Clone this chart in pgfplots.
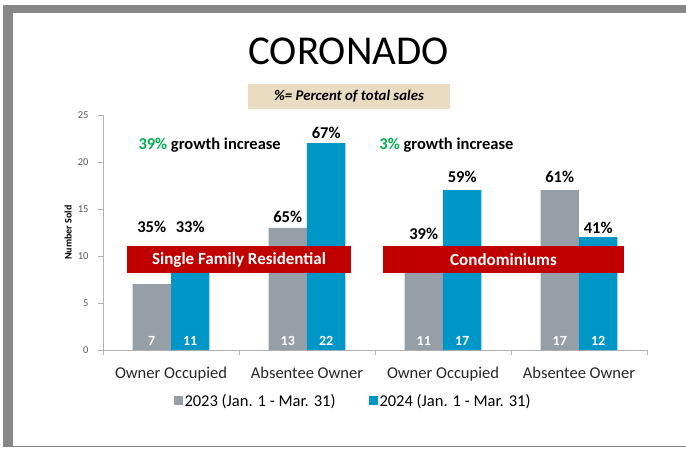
\documentclass[border=0pt]{standalone}
\usepackage{fontspec}
\setmainfont{Carlito}
\usepackage{pgfplots}
\pgfplotsset{compat=1.18}
\definecolor{c23}{HTML}{969FA7}
\definecolor{c24}{HTML}{0096C8}
\definecolor{bred}{HTML}{C00000}
\definecolor{ggreen}{HTML}{00B050}
\definecolor{tanbox}{HTML}{EADCC0}
\definecolor{framec}{HTML}{878787}
\pgfplotsset{sqlegend/.style={legend image code/.code={\fill[##1] (-2pt,-4.5pt) rectangle (7pt,4.5pt);}}}
\begin{document}
\begin{tikzpicture}
\fill[white] (0,0) rectangle (686pt,448pt);
\useasboundingbox (0,0) rectangle (686pt,448pt);
\fill[framec] (3pt,435pt) rectangle (686pt,443pt);
\fill[framec] (3pt,1pt) rectangle (13pt,443pt);
\fill[framec] (3pt,1pt) rectangle (686pt,2.5pt);
\node[anchor=base, inner sep=0pt, font=\fontsize{41}{48}\selectfont] at (348.5pt,383pt) {CORONADO};
\fill[tanbox] (248pt,339pt) rectangle (450pt,364pt);
\node[font=\fontsize{14.8}{17}\selectfont\bfseries\itshape] at (349pt,351.5pt) {\%= Percent of total sales};
\begin{axis}[
  at={(103pt,98pt)}, anchor=south west, scale only axis,
  width=544pt, height=235pt,
  xmin=-0.5, xmax=3.5, ymin=0, ymax=25,
  clip=false,
  axis x line*=bottom, axis y line*=left,
  axis line style={draw=black!30, line width=0.8pt},
  tick align=outside, major tick length=5pt, minor tick length=5pt,
  tick style={draw=black!30, line width=0.8pt},
  major x tick style={draw=none},
  xtick={0,1,2,3},
  xticklabels={Owner Occupied, Absentee Owner, Owner Occupied, Absentee Owner},
  minor xtick={-0.5,0.5,1.5,2.5,3.5},
  ytick={0,5,...,25},
  /pgf/number format/assume math mode=true,
  y tick label style={font=\fontsize{10.5}{12}\selectfont, text=black!65, xshift=-6pt},
  x tick label style={font=\fontsize{16.5}{19}\selectfont, text=black!85, yshift=-9pt},
  ylabel={Number Sold},
  ylabel style={font=\fontsize{10}{12}\selectfont\bfseries, at={(axis description cs:-0.064,0.5)}, anchor=center},
  legend style={at={(axis description cs:0.4596,-0.217)}, anchor=center, draw=none, fill=none,
    font=\fontsize{16.5}{19}\selectfont, legend columns=2,
    /tikz/every even column/.append style={column sep=31pt}},
  legend cell align=left,
]
\addplot[ybar, bar width=0.283, bar shift=-0.1415, fill=c23, draw=none, sqlegend]
  coordinates {(0,7) (1,13) (2,11) (3,17)};
\addlegendentry{2023 (Jan. 1 - Mar. 31)}
\addplot[ybar, bar width=0.283, bar shift=0.1415, fill=c24, draw=none, sqlegend]
  coordinates {(0,11) (1,22) (2,17) (3,12)};
\addlegendentry{2024 (Jan. 1 - Mar. 31)}
% counts at bar bottoms
\addplot[forget plot, draw=none, no marks, nodes near coords, point meta=explicit symbolic,
  nodes near coords style={anchor=base, text=white, font=\fontsize{14}{16}\selectfont\bfseries, yshift=5pt}]
  coordinates {(-0.1415,0)[7] (0.1415,0)[11] (0.8585,0)[13] (1.1415,0)[22]
               (1.8585,0)[11] (2.1415,0)[17] (2.8585,0)[17] (3.1415,0)[12]};
% percent labels
\addplot[forget plot, draw=none, no marks, nodes near coords, point meta=explicit symbolic,
  nodes near coords style={anchor=center, text=black, font=\fontsize{16.5}{19}\selectfont\bfseries}]
  coordinates {(-0.1415,13.09)[35\%] (0.1415,13.09)[33\%] (0.8585,14.11)[65\%] (1.1415,23.12)[67\%]
               (1.8585,12.34)[39\%] (2.1415,18.37)[59\%] (2.8585,18.37)[61\%] (3.1415,12.95)[41\%]};
\fill[bred] (axis cs:-0.3235,8.19) rectangle (axis cs:1.3235,11.06);
\node[text=white, font=\fontsize{17}{19}\selectfont\bfseries] at (axis cs:0.5,9.625) {Single Family Residential};
\fill[bred] (axis cs:1.559,8.19) rectangle (axis cs:3.331,11.06);
\node[text=white, font=\fontsize{17}{19}\selectfont\bfseries] at (axis cs:2.445,9.625) {Condominiums};
\node[anchor=west, inner sep=0pt, font=\fontsize{16.5}{19}\selectfont\bfseries] at (axis cs:-0.2404,21.8) {\textcolor{ggreen}{39\%} growth increase};
\node[anchor=west, inner sep=0pt, font=\fontsize{16.5}{19}\selectfont\bfseries] at (axis cs:1.5316,21.8) {\textcolor{ggreen}{3\%} growth increase};
\end{axis}
\end{tikzpicture}
\end{document}
